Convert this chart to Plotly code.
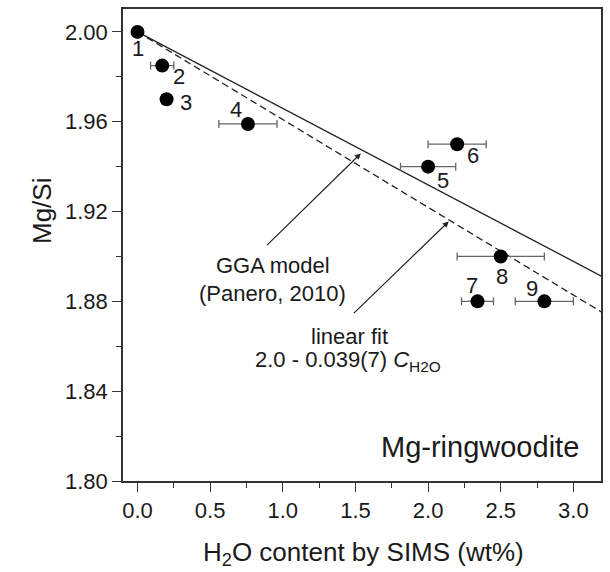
import plotly.graph_objects as go

# ---- data ----
h2o = [0.0, 0.17, 0.20, 0.76, 2.00, 2.20, 2.34, 2.50, 2.80]
mgsi = [2.000, 1.985, 1.970, 1.959, 1.940, 1.950, 1.880, 1.900, 1.880]
h2o_err = [0.0, 0.08, 0.0, 0.20, 0.19, 0.20, 0.11, 0.30, 0.20]
labels = ["1", "2", "3", "4", "5", "6", "7", "8", "9"]

line_x = [0.0, 3.2]
gga_y = [2.000, 1.891]   # GGA model (Panero, 2010)
fit_y = [2.000, 1.875]   # linear fit 2.0 - 0.039 C

xticks = [0.0, 0.5, 1.0, 1.5, 2.0, 2.5, 3.0]
yticks = [1.80, 1.84, 1.88, 1.92, 1.96, 2.00]

FONT = "Liberation Sans, Arial, sans-serif"
INK = "#1a1a1a"

# label pixel offsets (style)
lab_off = [(0, -17), (17, -11), (19, -3), (-12, 14), (15, -14),
           (16, -11), (-6, 16), (1, -20), (-12, 13)]

fig = go.Figure()
fig.add_trace(go.Scatter(x=line_x, y=gga_y, mode="lines",
                         line=dict(color="#222222", width=1.3), hoverinfo="skip"))
fig.add_trace(go.Scatter(x=line_x, y=fit_y, mode="lines",
                         line=dict(color="#222222", width=1.3, dash="7px,4px"), hoverinfo="skip"))
fig.add_trace(go.Scatter(
    x=h2o, y=mgsi, mode="markers",
    marker=dict(color="black", size=14),
    error_x=dict(type="data", array=h2o_err, visible=True,
                 color="#666666", thickness=1.3, width=4),
))

ann = []
for xv, yv, t, (dx, dy) in zip(h2o, mgsi, labels, lab_off):
    ann.append(dict(x=xv, y=yv, text=t, showarrow=False, xshift=dx, yshift=dy,
                    font=dict(family=FONT, size=22, color=INK)))

# arrows
ann.append(dict(x=1.537, y=1.9459, ax=0.881, ay=1.9044, axref="x", ayref="y",
                text="", showarrow=True, arrowhead=2, arrowsize=1, arrowwidth=1.2,
                arrowcolor="#222222"))
ann.append(dict(x=2.142, y=1.9156, ax=1.479, ay=1.8741, axref="x", ayref="y",
                text="", showarrow=True, arrowhead=2, arrowsize=1, arrowwidth=1.2,
                arrowcolor="#222222"))

ann += [
    dict(x=0.93, y=1.896, text="GGA model", showarrow=False,
         font=dict(family=FONT, size=22, color=INK)),
    dict(x=0.93, y=1.8836, text="(Panero, 2010)", showarrow=False,
         font=dict(family=FONT, size=22, color=INK)),
    dict(x=1.458, y=1.8645, text="linear fit", showarrow=False,
         font=dict(family=FONT, size=22, color=INK)),
    dict(x=1.45, y=1.8535, text="2.0 - 0.039(7) <i>C</i><sub>H2O</sub>", showarrow=False,
         font=dict(family=FONT, size=22, color=INK)),
    dict(x=3.053, y=1.815, text="Mg-ringwoodite", showarrow=False, xanchor="right",
         font=dict(family=FONT, size=29, color=INK)),
    dict(x=-0.205, y=0.572, xref="paper", yref="paper", text="Mg/Si", textangle=-90,
         showarrow=False, font=dict(family=FONT, size=26, color=INK)),
    dict(x=0.504, y=-0.193, xref="paper", yref="paper", yanchor="bottom",
         text="H<sub>2</sub>O content by SIMS (wt%)",
         showarrow=False, font=dict(family=FONT, size=26, color=INK)),
]

axis_common = dict(showline=True, mirror=True, linecolor="#333333", linewidth=1.5,
                   ticks="outside", ticklen=9, tickwidth=1.3, tickcolor="#333333",
                   showgrid=False, zeroline=False,
                   tickfont=dict(family=FONT, size=22, color=INK))

fig.update_xaxes(range=[-0.1, 3.19], tickvals=xticks,
                 ticktext=[f"{v:.1f}" for v in xticks],
                 minor=dict(ticks="outside", ticklen=5, dtick=0.25, tick0=0,
                            tickcolor="#333333", tickwidth=1.2),
                 **axis_common)
fig.update_yaxes(range=[1.80, 2.0102], tickvals=yticks,
                 ticktext=[f"{v:.2f}" for v in yticks],
                 minor=dict(ticks="outside", ticklen=5, dtick=0.02, tick0=1.8,
                            tickcolor="#333333", tickwidth=1.2),
                 **axis_common)

fig.update_layout(width=610, height=572, showlegend=False,
                  margin=dict(l=123, r=7, t=7, b=91),
                  plot_bgcolor="white", paper_bgcolor="white",
                  annotations=ann)

fig.write_html("out.html")
